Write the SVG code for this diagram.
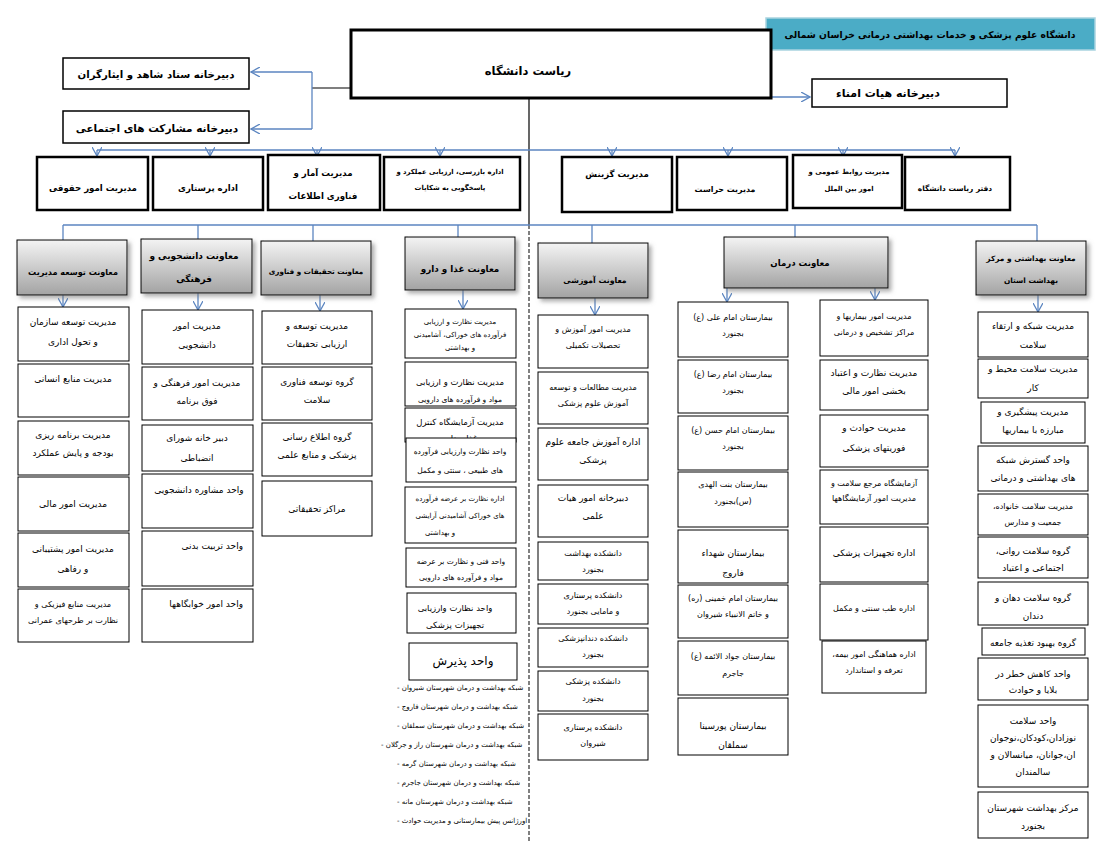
<svg xmlns="http://www.w3.org/2000/svg" width="1105" height="850" viewBox="0 0 1105 850">
<defs>
<linearGradient id="gv" x1="0" y1="0" x2="0" y2="1"><stop offset="0" stop-color="#f4f4f4"/><stop offset="1" stop-color="#a3a3a3"/></linearGradient>
<filter id="sh" x="-10%" y="-10%" width="130%" height="140%"><feDropShadow dx="3" dy="3" stdDeviation="2" flood-color="#777" flood-opacity="0.6"/></filter>
<marker id="ar" viewBox="0 0 10 10" refX="9" refY="5" markerWidth="10" markerHeight="10" markerUnits="userSpaceOnUse" orient="auto"><path d="M0,0 L9,5 L0,10" fill="none" stroke="#5b85c0" stroke-width="1.3"/></marker>
</defs>
<style>
.b{fill:#fff;stroke:#000;stroke-width:1}
.b2{fill:#fff;stroke:#000;stroke-width:2.5}
.b3{fill:#fff;stroke:#000;stroke-width:3}
.b15{fill:#fff;stroke:#000;stroke-width:1.5}
.vp{fill:url(#gv);stroke:#000;stroke-width:1;filter:url(#sh)}
text{font-family:'DejaVu Sans',sans-serif;fill:#000;direction:rtl;text-anchor:middle}
.t{font-size:9px}
.ts{font-size:7.5px}
.th{font-size:8.5px;font-weight:bold}
.tr{font-size:8.6px;font-weight:bold}
.tl{font-size:7px;text-anchor:end}
.c{stroke:#5b85c0;stroke-width:1.3;fill:none}
.ca{stroke:#5b85c0;stroke-width:1.3;fill:none;marker-end:url(#ar)}
</style>
<rect width="1105" height="850" fill="#fff"/>

<g id="connectors">
<line x1="351" y1="88" x2="312" y2="88" stroke="#555" stroke-width="1.3"/>
<polyline class="c" points="312,72 312,129"/>
<line class="ca" x1="312" y1="72" x2="251" y2="72"/>
<line class="ca" x1="312" y1="129" x2="251" y2="129"/>
<line class="ca" x1="771" y1="97" x2="810" y2="97"/>
<line x1="529" y1="98" x2="529" y2="225" stroke="#000" stroke-width="1.2"/>
<line x1="529" y1="225" x2="529" y2="842" stroke="#000" stroke-width="1" stroke-dasharray="4,2"/>
<line class="c" x1="97" y1="150" x2="955" y2="150"/>
<line class="ca" x1="97" y1="150" x2="97" y2="156"/>
<line class="ca" x1="210" y1="150" x2="210" y2="156"/>
<line class="ca" x1="317" y1="150" x2="317" y2="156"/>
<line class="ca" x1="440" y1="150" x2="440" y2="156"/>
<line class="ca" x1="612" y1="150" x2="612" y2="156"/>
<line class="ca" x1="728" y1="150" x2="728" y2="156"/>
<line class="ca" x1="843" y1="150" x2="843" y2="156"/>
<line class="ca" x1="955" y1="150" x2="955" y2="156"/>
<line class="c" x1="63" y1="225" x2="1037" y2="225"/>
<line class="c" x1="63" y1="225" x2="63" y2="240"/>
<line class="c" x1="198" y1="225" x2="198" y2="240"/>
<line class="c" x1="313" y1="225" x2="313" y2="242"/>
<line class="c" x1="458" y1="225" x2="458" y2="238"/>
<line class="c" x1="592" y1="225" x2="592" y2="243"/>
<line class="c" x1="795" y1="225" x2="795" y2="237"/>
<line class="c" x1="1037" y1="225" x2="1037" y2="241"/>
<line class="ca" x1="63" y1="295" x2="63" y2="307"/>
<line class="ca" x1="198" y1="293" x2="198" y2="310"/>
<line class="ca" x1="320" y1="295" x2="320" y2="311"/>
<line class="ca" x1="463" y1="290" x2="463" y2="309"/>
<line class="ca" x1="595" y1="298" x2="595" y2="315"/>
<line class="ca" x1="727" y1="288" x2="727" y2="302"/>
<line class="ca" x1="875" y1="288" x2="875" y2="300"/>
<line class="ca" x1="1038" y1="295" x2="1038" y2="312"/>
</g>

<g id="title"><rect x="766" y="18" width="329" height="32" fill="#4bacc6" stroke="#a9d3e0" stroke-width="1.5"/><text x="930" y="38" style="font-size:9.2px;font-weight:bold">دانشگاه علوم پزشکی و خدمات بهداشتی درمانی خراسان شمالی</text></g>
<g id="riasat"><rect class="b3" x="351" y="30" width="420" height="68"/><text x="528" y="75" style="font-size:11.5px;font-weight:bold">ریاست دانشگاه</text></g>
<g id="shahed"><rect class="b15" x="63" y="58" width="186" height="31"/><text x="156" y="78" style="font-size:10.2px;font-weight:bold">دبیرخانه ستاد شاهد و ایثارگران</text></g>
<g id="mosharekat"><rect class="b15" x="63" y="111" width="186" height="32"/><text x="157" y="132" style="font-size:10.5px;font-weight:bold">دبیرخانه مشارکت های اجتماعی</text></g>
<g id="omana"><rect class="b15" x="812" y="79" width="195" height="28"/><text x="888" y="97" style="font-size:11px;font-weight:bold">دبیرخانه هیات امناء</text></g>

<g id="hoghooghi"><rect class="b2" x="37" y="157" width="111" height="53"/><text class="tr" x="93" y="191">مدیریت امور حقوقی</text></g>
<g id="parastari"><rect class="b2" x="153" y="157" width="110" height="53"/><text class="tr" x="208" y="191">اداره پرستاری</text></g>
<g id="amar"><rect class="b2" x="268" y="155" width="112" height="55"/><text class="tr" x="323" y="176">مدیریت آمار و</text><text class="tr" x="323" y="199">فناوری اطلاعات</text></g>
<g id="bazresi"><rect class="b2" x="384" y="157" width="136" height="53"/><text x="450" y="174" style="font-size:6.8px;font-weight:bold">اداره بازرسی، ارزیابی عملکرد و</text><text x="450" y="190" style="font-size:6.8px;font-weight:bold">پاسخگویی به شکایات</text></g>
<g id="gozinesh"><rect class="b2" x="562" y="157" width="110" height="55"/><text class="tr" x="617" y="177">مدیریت گزینش</text></g>
<g id="herasat"><rect class="b2" x="677" y="157" width="110" height="53"/><text x="725" y="192" style="font-size:7.9px;font-weight:bold">مدیریت حراست</text></g>
<g id="ravabet"><rect class="b2" x="793" y="155" width="109" height="53"/><text x="849" y="174" style="font-size:6.8px;font-weight:bold">مدیریت روابط عمومی و</text><text x="849" y="191" style="font-size:6.8px;font-weight:bold">امور بین الملل</text></g>
<g id="daftar"><rect class="b2" x="905" y="157" width="105" height="53"/><text x="955" y="191" style="font-size:7.4px;font-weight:bold">دفتر ریاست دانشگاه</text></g>

<g id="m-tose"><rect class="vp" x="17" y="240" width="110" height="55"/><text class="th" x="73" y="275" style="font-size:8.1px">معاونت توسعه مدیریت</text></g>
<g id="m-daneshjoo"><rect class="vp" x="141" y="239" width="111" height="54"/><text class="th" x="194" y="259" style="font-size:9px">معاونت دانشجویی و</text><text class="th" x="194" y="282" style="font-size:9px">فرهنگی</text></g>
<g id="m-tahghighat"><rect class="vp" x="261" y="241" width="110" height="54"/><text class="th" x="316" y="274" style="font-size:7.2px">معاونت تحقیقات و فناوری</text></g>
<g id="m-ghaza"><rect class="vp" x="405" y="237" width="110" height="53"/><text class="th" x="460" y="272" style="font-size:8.8px">معاونت غذا و دارو</text></g>
<g id="m-amoozeshi"><rect class="vp" x="538" y="243" width="110" height="55"/><text class="th" x="595" y="283" style="font-size:7.8px">معاونت آموزشی</text></g>
<g id="m-darman"><rect class="vp" x="724" y="237" width="164" height="51"/><text class="th" x="800" y="266" style="font-size:8.6px">معاونت درمان</text></g>
<g id="m-behdasht"><rect class="vp" x="976" y="241" width="110" height="54"/><text class="th" x="1031" y="261" style="font-size:7.4px">معاونت بهداشتی و مرکز</text><text class="th" x="1031" y="283" style="font-size:7.4px">بهداشت استان</text></g>

<g id="c1">
<g id="c1-1"><rect class="b" x="18" y="307" width="111" height="54"/><text class="t" x="73" y="325">مدیریت توسعه سازمان</text><text class="t" x="73" y="345">و تحول اداری</text></g>
<g id="c1-2"><rect class="b" x="18" y="364" width="111" height="53"/><text class="t" x="73" y="382">مدیریت منابع انسانی</text></g>
<g id="c1-3"><rect class="b" x="18" y="421" width="111" height="54"/><text class="t" x="73" y="438">مدیریت برنامه ریزی</text><text class="t" x="73" y="456">بودجه و پایش عملکرد</text></g>
<g id="c1-4"><rect class="b" x="18" y="477" width="111" height="54"/><text class="t" x="73" y="507">مدیریت امور مالی</text></g>
<g id="c1-5"><rect class="b" x="18" y="533" width="111" height="54"/><text class="t" x="73" y="552">مدیریت امور پشتیبانی</text><text class="t" x="73" y="572">و رفاهی</text></g>
<g id="c1-6"><rect class="b" x="18" y="589" width="111" height="53"/><text class="ts" x="73" y="607" style="font-size:8px">مدیریت منابع فیزیکی و</text><text class="ts" x="73" y="623" style="font-size:8px">نظارت بر طرحهای عمرانی</text></g>
</g>

<g id="c2">
<g id="c2-1"><rect class="b" x="142" y="310" width="111" height="54"/><text class="t" x="197" y="329">مدیریت امور</text><text class="t" x="197" y="348">دانشجویی</text></g>
<g id="c2-2"><rect class="b" x="142" y="367" width="111" height="53"/><text class="t" x="197" y="386">مدیریت امور فرهنگی و</text><text class="t" x="197" y="404">فوق برنامه</text></g>
<g id="c2-3"><rect class="b" x="142" y="425" width="111" height="46"/><text class="t" x="197" y="441">دبیر خانه شورای</text><text class="t" x="197" y="461">انضباطی</text></g>
<g id="c2-4"><rect class="b" x="142" y="474" width="111" height="54"/><text class="t" x="199" y="493">واحد مشاوره دانشجویی</text></g>
<g id="c2-5"><rect class="b" x="142" y="531" width="111" height="55"/><text class="t" x="243" y="549" style="text-anchor:start">واحد تربیت بدنی</text></g>
<g id="c2-6"><rect class="b" x="142" y="589" width="111" height="53"/><text class="t" x="243" y="607" style="text-anchor:start">واحد امور خوابگاهها</text></g>
</g>

<g id="c3">
<g id="c3-1"><rect class="b" x="262" y="311" width="110" height="53"/><text class="t" x="317" y="329">مدیریت توسعه و</text><text class="t" x="317" y="347">ارزیابی تحقیقات</text></g>
<g id="c3-2"><rect class="b" x="262" y="367" width="110" height="53"/><text class="t" x="317" y="385">گروه توسعه فناوری</text><text class="t" x="317" y="403">سلامت</text></g>
<g id="c3-3"><rect class="b" x="262" y="423" width="110" height="53"/><text class="t" x="317" y="440">گروه اطلاع رسانی</text><text class="t" x="317" y="458">پزشکی و منابع علمی</text></g>
<g id="c3-4"><rect class="b" x="262" y="481" width="110" height="55"/><text class="t" x="317" y="512">مراکز تحقیقاتی</text></g>
</g>

<g id="c4">
<g id="c4-1"><rect class="b" x="405" y="309" width="111" height="49"/><text class="ts" x="460" y="324" style="font-size:7px">مدیریت نظارت و ارزیابی</text><text class="ts" x="460" y="337" style="font-size:7px">فرآورده های خوراکی، آشامیدنی</text><text class="ts" x="460" y="350" style="font-size:7px">و بهداشتی</text></g>
<g id="c4-2"><rect class="b" x="405" y="362" width="111" height="44"/><text class="t" x="460" y="385" style="font-size:8.5px">مدیریت نظارت و ارزیابی</text><text class="ts" x="460" y="402">مواد و فرآورده های دارویی</text></g>
<g id="c4-3"><rect class="b" x="405" y="408" width="111" height="34"/><text class="t" x="460" y="425" style="font-size:8.5px">مدیریت آزمایشگاه کنترل</text><text class="t" x="460" y="441" style="font-size:8.5px">غذا و دارو</text></g>
<g id="c4-4"><rect class="b" x="406" y="438" width="110" height="44"/><text class="ts" x="460" y="454">واحد نظارت وارزیابی فرآورده</text><text class="ts" x="460" y="473">های طبیعی ، سنتی و مکمل</text></g>
<g id="c4-5"><rect class="b" x="405" y="487" width="111" height="56"/><text class="ts" x="460" y="501" style="font-size:7px">اداره نظارت بر عرضه فرآورده</text><text class="ts" x="460" y="518" style="font-size:7px">های خوراکی آشامیدنی آرایشی</text><text class="ts" x="440" y="535" style="font-size:7px">و بهداشتی</text></g>
<g id="c4-6"><rect class="b" x="406" y="548" width="110" height="39"/><text class="ts" x="461" y="564">واحد فنی و نظارت بر عرضه</text><text class="ts" x="461" y="580">مواد و فرآورده های دارویی</text></g>
<g id="c4-7"><rect class="b" x="407" y="593" width="109" height="40"/><text class="t" x="455" y="611" style="font-size:8.5px">واحد نظارت وارزیابی</text><text class="t" x="455" y="628" style="font-size:8.5px">تجهیزات پزشکی</text></g>
<g id="c4-8"><rect class="b" x="409" y="643" width="108" height="37"/><text x="463" y="665" style="font-size:12px">واحد پذیرش</text></g>
<g id="c4-list">
<text class="tl" x="397" y="690">شبکه بهداشت و درمان شهرستان شیروان -</text>
<text class="tl" x="397" y="709">شبکه بهداشت و درمان شهرستان فاروج -</text>
<text class="tl" x="397" y="728">شبکه بهداشت و درمان شهرستان  سملقان -</text>
<text class="tl" x="381" y="747">شبکه بهداشت و درمان شهرستان راز و جرگلان -</text>
<text class="tl" x="397" y="766">شبکه بهداشت و درمان شهرستان گرمه -</text>
<text class="tl" x="397" y="785">شبکه بهداشت و درمان شهرستان جاجرم -</text>
<text class="tl" x="397" y="804">شبکه بهداشت و درمان شهرستان مانه -</text>
<text class="tl" x="397" y="823">اورژانس پیش بیمارستانی و مدیریت حوادث -</text>
</g>
</g>

<g id="c5">
<g id="c5-1"><rect class="b" x="538" y="315" width="110" height="53"/><text class="ts" x="593" y="332" style="font-size:8px">مدیریت امور آموزش و</text><text class="ts" x="593" y="348" style="font-size:8px">تحصیلات تکمیلی</text></g>
<g id="c5-2"><rect class="b" x="538" y="372" width="110" height="52"/><text class="ts" x="593" y="390" style="font-size:8px">مدیریت مطالعات و توسعه</text><text class="ts" x="593" y="406" style="font-size:8px">آموزش علوم پزشکی</text></g>
<g id="c5-3"><rect class="b" x="538" y="428" width="110" height="52"/><text class="t" x="593" y="445">اداره آموزش جامعه علوم</text><text class="t" x="593" y="463">پزشکی</text></g>
<g id="c5-4"><rect class="b" x="538" y="485" width="110" height="52"/><text class="t" x="593" y="501">دبیرخانه امور هیات</text><text class="t" x="593" y="519">علمی</text></g>
<g id="c5-5"><rect class="b" x="538" y="542" width="110" height="38"/><text class="ts" x="593" y="556" style="font-size:8px">دانشکده بهداشت</text><text class="ts" x="593" y="572" style="font-size:8px">بجنورد</text></g>
<g id="c5-6"><rect class="b" x="538" y="584" width="110" height="40"/><text class="ts" x="593" y="598" style="font-size:8px">دانشکده پرستاری</text><text class="ts" x="593" y="614" style="font-size:8px">و مامایی بجنورد</text></g>
<g id="c5-7"><rect class="b" x="538" y="628" width="110" height="39"/><text class="ts" x="593" y="641" style="font-size:8px">دانشکده دندانپزشکی</text><text class="ts" x="593" y="657" style="font-size:8px">بجنورد</text></g>
<g id="c5-8"><rect class="b" x="538" y="671" width="110" height="40"/><text class="ts" x="593" y="684" style="font-size:8px">دانشکده پزشکی</text><text class="ts" x="593" y="701" style="font-size:8px">بجنورد</text></g>
<g id="c5-9"><rect class="b" x="538" y="714" width="110" height="46"/><text class="ts" x="593" y="730" style="font-size:8px">دانشکده پرستاری</text><text class="ts" x="593" y="746" style="font-size:8px">شیروان</text></g>
</g>

<g id="c6">
<g id="c6-1"><rect class="b" x="678" y="302" width="110" height="55"/><text class="ts" x="733" y="320" style="font-size:8px">بیمارستان امام علی (ع)</text><text class="ts" x="733" y="336" style="font-size:8px">بجنورد</text></g>
<g id="c6-2"><rect class="b" x="678" y="360" width="110" height="53"/><text class="ts" x="733" y="377" style="font-size:8px">بیمارستان امام رضا (ع)</text><text class="ts" x="733" y="393" style="font-size:8px">بجنورد</text></g>
<g id="c6-3"><rect class="b" x="678" y="416" width="110" height="54"/><text class="ts" x="733" y="433" style="font-size:8px">بیمارستان امام حسن (ع)</text><text class="ts" x="733" y="449" style="font-size:8px">بجنورد</text></g>
<g id="c6-4"><rect class="b" x="678" y="472" width="110" height="55"/><text class="ts" x="733" y="487" style="font-size:8px">بیمارستان بنت الهدی</text><text class="ts" x="733" y="504" style="font-size:8px">(س)بجنورد</text></g>
<g id="c6-5"><rect class="b" x="678" y="530" width="110" height="53"/><text class="t" x="733" y="556">بیمارستان شهداء</text><text class="t" x="733" y="576">فاروج</text></g>
<g id="c6-6"><rect class="b" x="678" y="585" width="110" height="53"/><text class="ts" x="733" y="601" style="font-size:8px">بیمارستان امام خمینی (ره)</text><text class="ts" x="733" y="617" style="font-size:8px">و خاتم الانبیاء شیروان</text></g>
<g id="c6-7"><rect class="b" x="678" y="641" width="110" height="54"/><text class="ts" x="733" y="659" style="font-size:8px">بیمارستان جواد الائمه (ع)</text><text class="ts" x="733" y="676" style="font-size:8px">جاجرم</text></g>
<g id="c6-8"><rect class="b" x="678" y="698" width="110" height="57"/><text class="t" x="733" y="729">بیمارستان پورسینا</text><text class="t" x="733" y="748">سملقان</text></g>
</g>

<g id="c7">
<g id="c7-1"><rect class="b" x="820" y="300" width="108" height="56"/><text class="ts" x="874" y="319" style="font-size:8px">مدیریت امور بیماریها و</text><text class="ts" x="874" y="335" style="font-size:8px">مراکز تشخیص و درمانی</text></g>
<g id="c7-2"><rect class="b" x="820" y="360" width="108" height="50"/><text class="t" x="874" y="376">مدیریت نظارت و اعتباد</text><text class="t" x="874" y="394">بخشی امور مالی</text></g>
<g id="c7-3"><rect class="b" x="820" y="415" width="108" height="52"/><text class="t" x="874" y="431">مدیریت حوادث و</text><text class="t" x="874" y="451">فوریتهای پزشکی</text></g>
<g id="c7-4"><rect class="b" x="820" y="470" width="108" height="54"/><text class="ts" x="874" y="486" style="font-size:8px">آزمایشگاه مرجع سلامت و</text><text class="ts" x="874" y="501" style="font-size:8px">مدیریت امور آزمایشگاهها</text></g>
<g id="c7-5"><rect class="b" x="820" y="527" width="108" height="55"/><text class="t" x="874" y="556">اداره تجهیزات پزشکی</text></g>
<g id="c7-6"><rect class="b" x="820" y="584" width="108" height="56"/><text class="ts" x="874" y="611" style="font-size:8px">اداره طب سنتی و مکمل</text></g>
<g id="c7-7"><rect class="b" x="822" y="641" width="104" height="52"/><text class="ts" x="874" y="657" style="font-size:8px">اداره هماهنگی امور بیمه،</text><text class="ts" x="874" y="673" style="font-size:8px">تعرفه و استاندارد</text></g>
</g>

<g id="c8">
<g id="c8-1"><rect class="b" x="978" y="312" width="110" height="45"/><text class="t" x="1033" y="329">مدیریت شبکه و ارتقاء</text><text class="t" x="1033" y="348">سلامت</text></g>
<g id="c8-2"><rect class="b" x="978" y="359" width="110" height="39"/><text class="t" x="1033" y="372">مدیریت سلامت محیط و</text><text class="t" x="1033" y="391">کار</text></g>
<g id="c8-3"><rect class="b" x="981" y="402" width="104" height="41"/><text class="t" x="1033" y="415">مدیریت پیشگیری و</text><text class="t" x="1033" y="433">مبارزه با بیماریها</text></g>
<g id="c8-4"><rect class="b" x="978" y="446" width="110" height="45"/><text class="t" x="1033" y="463">واحد گسترش شبکه</text><text class="t" x="1033" y="481">های بهداشتی و درمانی</text></g>
<g id="c8-5"><rect class="b" x="978" y="494" width="110" height="41"/><text class="ts" x="1033" y="509" style="font-size:8px">مدیریت سلامت خانواده،</text><text class="ts" x="1033" y="525" style="font-size:8px">جمعیت و مدارس</text></g>
<g id="c8-6"><rect class="b" x="978" y="537" width="110" height="41"/><text class="t" x="1033" y="554">گروه سلامت روانی،</text><text class="t" x="1033" y="571">اجتماعی و اعتیاد</text></g>
<g id="c8-7"><rect class="b" x="978" y="582" width="110" height="43"/><text class="t" x="1033" y="601">گروه سلامت دهان و</text><text class="t" x="1033" y="619">دندان</text></g>
<g id="c8-8"><rect class="b" x="982" y="628" width="103" height="27"/><text class="t" x="1033" y="646">گروه بهبود تغذیه جامعه</text></g>
<g id="c8-9"><rect class="b" x="978" y="658" width="110" height="42"/><text class="t" x="1033" y="677">واحد کاهش خطر در</text><text class="t" x="1033" y="693">بلایا و حوادث</text></g>
<g id="c8-10"><rect class="b" x="978" y="705" width="110" height="82"/><text class="t" x="1033" y="724">واحد سلامت</text><text class="t" x="1033" y="741">نوزادان،کودکان،نوجوان</text><text class="t" x="1033" y="758">ان،جوانان، میانسالان و</text><text class="t" x="1033" y="775">سالمندان</text></g>
<g id="c8-11"><rect class="b" x="978" y="792" width="110" height="46"/><text class="t" x="1033" y="811">مرکز بهداشت شهرستان</text><text class="t" x="1033" y="829">بجنورد</text></g>
</g>
</svg>
